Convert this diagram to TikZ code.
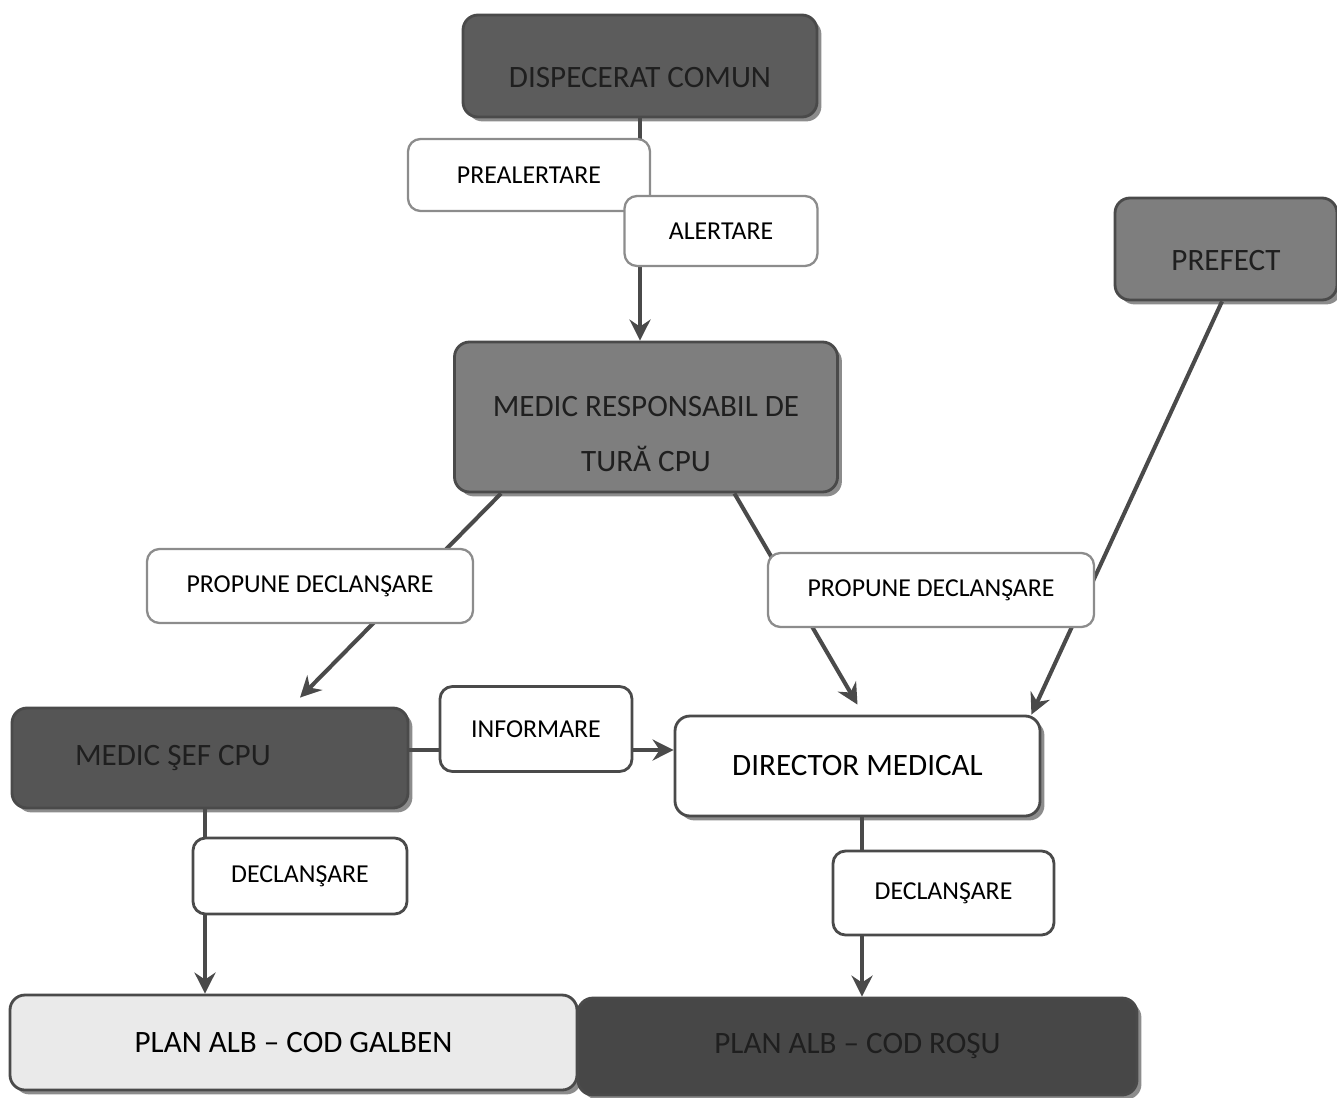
\documentclass[tikz,border=0pt]{standalone}
\usepackage{fontspec}
\setmainfont{Carlito}
\usepackage{tikz}
\usetikzlibrary{calc}
\usetikzlibrary{arrows.meta}
\usetikzlibrary{shadows}
\definecolor{edgegray}{HTML}{4A4A4A}
\definecolor{rimgray}{HTML}{8C8C8C}
\definecolor{darkfill}{HTML}{5C5C5C}
\definecolor{midfill}{HTML}{7E7E7E}
\definecolor{sefFill}{HTML}{555555}
\definecolor{rosuFill}{HTML}{474747}
\definecolor{galbenFill}{HTML}{EAEAEA}
\tikzset{
  mainbox/.style={draw=edgegray, line width=1.6pt, rounded corners=0.3cm, inner sep=0pt,
    text=black!88, font=\fontsize{17.7}{21}\selectfont,
    drop shadow={shadow xshift=2.5pt, shadow yshift=-2.5pt, fill=black, opacity=0.45}},
  tagbox/.style={draw=edgegray, fill=white, line width=1.6pt, rounded corners=0.25cm, inner sep=0pt,
    font=\fontsize{14.7}{18}\selectfont},
  softtag/.style={tagbox, draw=rimgray, line width=1.3pt},
  lowtext/.style={text height=0.86cm, text depth=0pt},
  flow/.style={draw=edgegray, line width=2.3pt, -{Stealth[length=0.42cm, width=0.42cm, inset=0.14cm]}}
}

\begin{document}
\begin{tikzpicture}
\useasboundingbox (0,0) rectangle (26.74,-21.94);
\node[mainbox, fill=darkfill, lowtext, minimum width=7.08cm, minimum height=2.04cm] (disp) at (12.80,-1.32) {DISPECERAT COMUN};
\node[mainbox, fill=midfill, align=center, text height=2.2cm, minimum width=7.66cm, minimum height=3.00cm] (resp) at (12.92,-8.34) {MEDIC RESPONSABIL DE\\[10.5pt]TURĂ CPU};
\node[mainbox, fill=midfill, lowtext, minimum width=4.44cm, minimum height=2.04cm] (prefect) at (24.52,-4.98) {PREFECT};
\node[mainbox, fill=sefFill, align=flush left, text width=5.4cm, inner xsep=1.26cm, minimum height=2.00cm] (sef) at (4.20,-15.16) {MEDIC ŞEF CPU};
\node[mainbox, fill=white, text=black, minimum width=7.30cm, minimum height=2.00cm] (dir) at (17.15,-15.32) {DIRECTOR MEDICAL};
\node[mainbox, fill=galbenFill, text=black, minimum width=11.34cm, minimum height=1.90cm] (galben) at (5.87,-20.85) {PLAN ALB -- COD GALBEN};
\node[mainbox, fill=rosuFill, minimum width=11.18cm, minimum height=1.94cm] (rosu) at (17.15,-20.93) {PLAN ALB -- COD ROŞU};

\draw[flow] (disp.south) -- (disp.south |- resp.north);
\draw[flow] ([xshift=0.96cm]resp.south west) -- ([xshift=1.8cm,yshift=0.18cm]sef.north);
\draw[flow] ([xshift=-2.09cm]resp.south east) -- ([yshift=0.2cm]dir.north);
\draw[flow] ([xshift=-0.08cm]prefect.south) -- ([xshift=-0.2cm]dir.north east);
\draw[flow] ([yshift=0.16cm]sef.east) -- ([yshift=0.16cm]sef.east -| dir.west);
\draw[flow] ([xshift=-0.1cm]sef.south) -- ([xshift=-0.1cm]sef.south |- galben.north);
\draw[flow] ([xshift=0.09cm]dir.south) -- ([xshift=0.09cm]dir.south |- rosu.north);

\node[softtag, minimum width=4.84cm, minimum height=1.44cm] (prealert) at (10.58,-3.50) {PREALERTARE};
\node[softtag, minimum width=3.86cm, minimum height=1.40cm] (alert) at (14.42,-4.62) {ALERTARE};
\node[softtag, minimum width=6.52cm, minimum height=1.48cm] (propL) at (6.20,-11.72) {PROPUNE DECLANŞARE};
\node[softtag, minimum width=6.52cm, minimum height=1.48cm] (propR) at (18.62,-11.80) {PROPUNE DECLANŞARE};
\node[tagbox, minimum width=3.84cm, minimum height=1.70cm] (inform) at (10.72,-14.58) {INFORMARE};
\node[tagbox, minimum width=4.28cm, minimum height=1.52cm] (declL) at (6.00,-17.52) {DECLANŞARE};
\node[tagbox, minimum width=4.42cm, minimum height=1.68cm] (declR) at (18.87,-17.86) {DECLANŞARE};
\end{tikzpicture}
\end{document}
